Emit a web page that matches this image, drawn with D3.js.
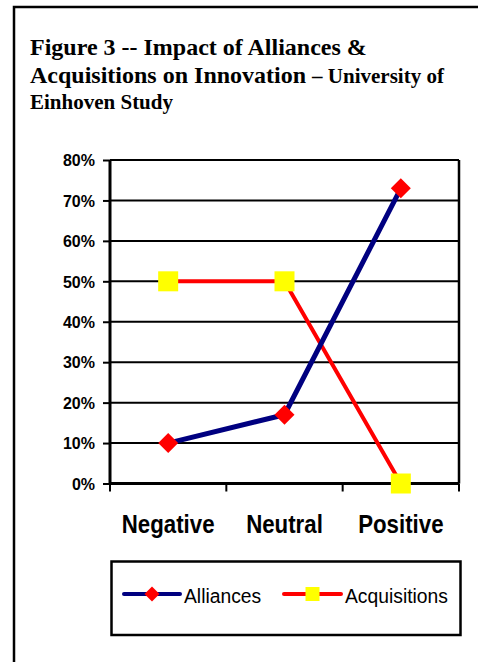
<!DOCTYPE html>
<html>
<head>
<meta charset="utf-8">
<script src="https://cdn.jsdelivr.net/npm/d3@7"></script>
<style>
  html, body { margin: 0; padding: 0; background: #fff; }
  svg { display: block; }
  .sans { font-family: "Liberation Sans", Arial, sans-serif; }
  .serif { font-family: "Liberation Serif", "Times New Roman", serif; font-weight: bold; }
</style>
</head>
<body>
<svg id="chart" width="478" height="662"></svg>
<script>
// Outcome categories on the x axis
const categories = ["Negative", "Neutral", "Positive"];
// Share of firms per outcome
const alliances = [0.10, 0.17, 0.73];
const acquisitions = [0.50, 0.50, 0.00];
// Y axis ticks
const yTicks = [0, 0.1, 0.2, 0.3, 0.4, 0.5, 0.6, 0.7, 0.8];
const seriesNames = ["Alliances", "Acquisitions"];

const svg = d3.select("#chart");

// Frame around the figure (open on the right and bottom)
svg.append("path")
  .attr("d", "M14,662 V7 H478")
  .attr("fill", "none").attr("stroke", "#000").attr("stroke-width", 2.5);

// Title
const title = svg.append("g").attr("class", "serif").attr("fill", "#000");
title.append("text").attr("x", 30).attr("y", 55).attr("font-size", 24)
  .text("Figure 3 -- Impact of Alliances &");
const t2 = title.append("text").attr("x", 30).attr("y", 83).attr("font-size", 24);
t2.append("tspan").text("Acquisitions on Innovation ");
t2.append("tspan").attr("font-size", 21).text("– University of");
title.append("text").attr("x", 30).attr("y", 109).attr("font-size", 21)
  .text("Einhoven Study");

// Scales
const x = d3.scaleBand().domain(categories).range([110, 459]);
const y = d3.scaleLinear().domain([0, 0.8]).range([483.5, 160]);
const cx = d => x(d) + x.bandwidth() / 2;

// Horizontal gridlines
svg.append("g")
  .selectAll("line").data(yTicks).join("line")
  .attr("x1", 110).attr("x2", 459)
  .attr("y1", d => y(d)).attr("y2", d => y(d))
  .attr("stroke", "#000").attr("stroke-width", 2);

// Right border of plot
svg.append("line").attr("x1", 459).attr("x2", 459)
  .attr("y1", y(0.8)).attr("y2", y(0))
  .attr("stroke", "#000").attr("stroke-width", 2.5);

// Y axis
const yAxis = d3.axisLeft(y).tickValues(yTicks).tickFormat(d3.format(".0%"))
  .tickSize(7).tickPadding(8);
const gy = svg.append("g").attr("transform", "translate(110,0)").call(yAxis);
gy.select(".domain").attr("stroke", "#000").attr("stroke-width", 3)
  .attr("d", `M0,${y(0.8)}V${y(0)}`);
gy.selectAll(".tick line").attr("stroke", "#000").attr("stroke-width", 2);
gy.selectAll(".tick text").attr("class", "sans")
  .attr("font-size", 16).attr("font-weight", "bold").attr("fill", "#000")
  .attr("dy", "0.36em");

// X axis (ticks at band boundaries)
const gx = svg.append("g").attr("transform", `translate(0,${y(0)})`);
gx.append("line").attr("x1", 110).attr("x2", 459)
  .attr("stroke", "#000").attr("stroke-width", 3);
const bounds = categories.map(c => x(c)).concat([x(categories[categories.length - 1]) + x.bandwidth()]);
gx.selectAll("line.tk").data(bounds).join("line").attr("class", "tk")
  .attr("x1", d => d).attr("x2", d => d).attr("y1", 0).attr("y2", 8)
  .attr("stroke", "#000").attr("stroke-width", 2);
// Condensed category labels
gx.selectAll("text").data(categories).join("text")
  .attr("class", "sans")
  .attr("transform", d => `translate(${cx(d)},49.5) scale(0.84,1)`)
  .attr("text-anchor", "middle").attr("font-size", 26.5).attr("font-weight", "bold")
  .attr("fill", "#000").text(d => d);

// Lines
const line = d3.line().x((d, i) => cx(categories[i])).y(d => y(d));
svg.append("path").datum(acquisitions).attr("d", line)
  .attr("fill", "none").attr("stroke", "#ff0000").attr("stroke-width", 4);
svg.append("path").datum(alliances).attr("d", line)
  .attr("fill", "none").attr("stroke", "#000080").attr("stroke-width", 5);

// Markers
svg.append("g").selectAll("rect").data(acquisitions).join("rect")
  .attr("x", (d, i) => cx(categories[i]) - 10).attr("y", d => y(d) - 10)
  .attr("width", 20).attr("height", 20).attr("fill", "#ffff00");
const diamond = s => `M0,${-s}L${s},0L0,${s}L${-s},0Z`;
svg.append("g").selectAll("path").data(alliances).join("path")
  .attr("transform", (d, i) => `translate(${cx(categories[i])},${y(d)})`)
  .attr("d", diamond(10)).attr("fill", "#ff0000");

// Legend
const lg = svg.append("g");
lg.append("rect").attr("x", 111.5).attr("y", 561.5).attr("width", 349).attr("height", 73.5)
  .attr("fill", "#fff").attr("stroke", "#000").attr("stroke-width", 2.5);
const legendItems = [
  { name: seriesNames[0], color: "#000080", x0: 124, x1: 180, text: 184, marker: "diamond" },
  { name: seriesNames[1], color: "#ff0000", x0: 284, x1: 341, text: 345, marker: "square" }
];
const ly = 594;
legendItems.forEach(it => {
  lg.append("line").attr("x1", it.x0).attr("x2", it.x1).attr("y1", ly).attr("y2", ly)
    .attr("stroke", it.color).attr("stroke-width", 4).attr("stroke-linecap", "round");
  const mx = (it.x0 + it.x1) / 2;
  if (it.marker === "diamond") {
    lg.append("path").attr("transform", `translate(${mx},${ly})`).attr("d", diamond(7.5)).attr("fill", "#ff0000");
  } else {
    lg.append("rect").attr("x", mx - 7).attr("y", ly - 7).attr("width", 14).attr("height", 14).attr("fill", "#ffff00");
  }
  lg.append("text").attr("class", "sans")
    .attr("transform", `translate(${it.text},${ly + 9}) scale(0.92,1)`)
    .attr("font-size", 21).attr("fill", "#000").text(it.name);
});
</script>
</body>
</html>
